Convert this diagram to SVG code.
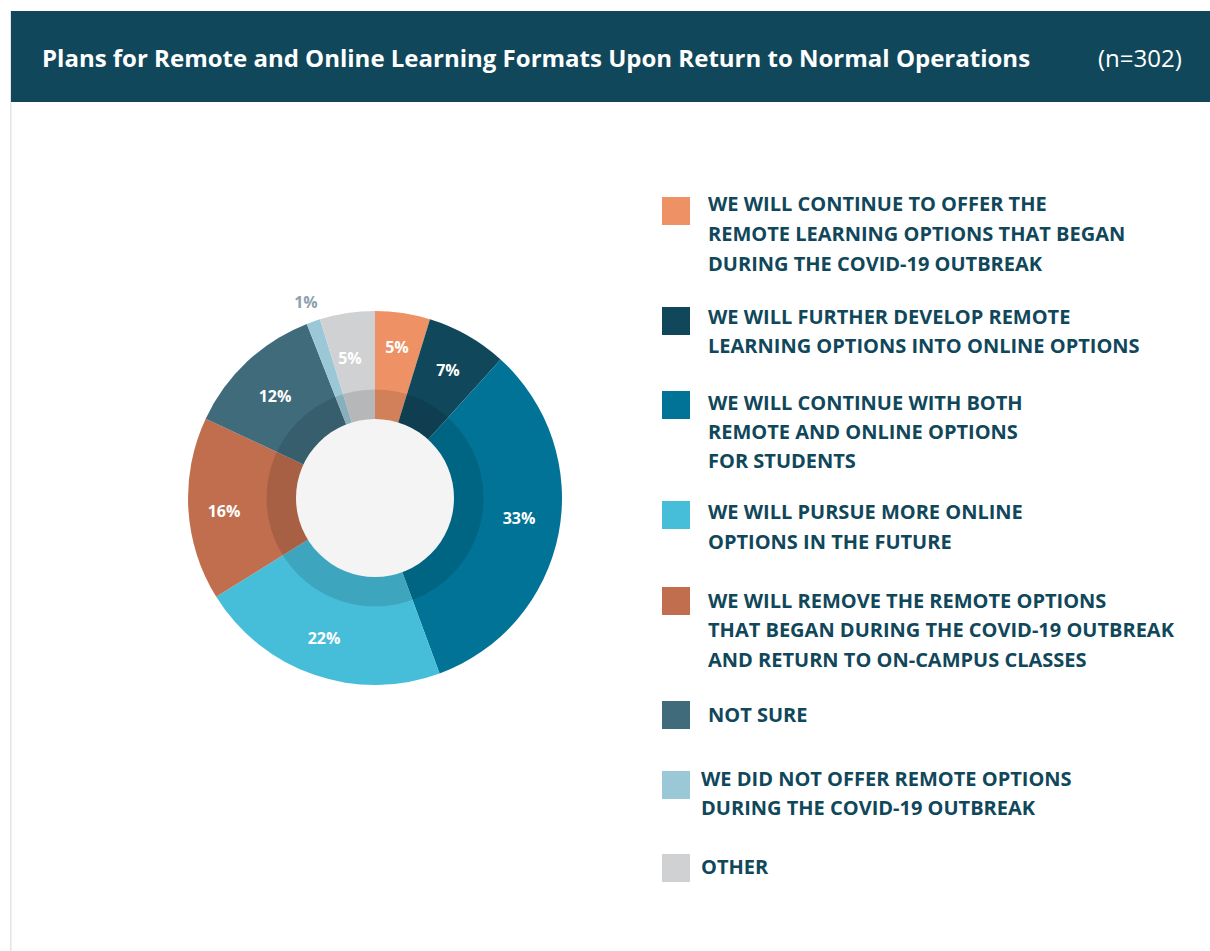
<svg xmlns="http://www.w3.org/2000/svg" width="1210" height="951" viewBox="0 0 1210 951">
<style>
.title{font-family:"Open Sans","Liberation Sans",sans-serif;font-weight:700;font-size:24px;fill:#ffffff}
.n{font-family:"Open Sans","Liberation Sans",sans-serif;font-weight:400;font-size:24px;fill:#ffffff}
.pct{font-family:"Open Sans","Liberation Sans",sans-serif;font-weight:700;font-size:16px;fill:#ffffff;text-anchor:middle}
.leg{font-family:"Open Sans","Liberation Sans",sans-serif;font-weight:700;font-size:20px;fill:#10475B}
</style>
<rect x="0" y="0" width="1210" height="951" fill="#ffffff"/>
<rect x="10" y="11" width="1.5" height="940" fill="#E3E3E3"/>
<rect x="11" y="11" width="1199" height="91" fill="#10475B"/>
<text class="title" x="42" y="67">Plans for Remote and Online Learning Formats Upon Return to Normal Operations</text>
<text class="n" x="1098" y="67">(n=302)</text>

<g id="donut">
<path d="M375,498 L375,311 A187,187 0 0 1 429.98,319.26 Z" fill="#EE9266"/>
<path d="M375,498 L429.98,319.26 A187,187 0 0 1 500.6,359.47 Z" fill="#10475B"/>
<path d="M375,498 L500.6,359.47 A187,187 0 0 1 439.57,673.5 Z" fill="#007396"/>
<path d="M375,498 L439.57,673.5 A187,187 0 0 1 216.2,596.8 Z" fill="#46BED9"/>
<path d="M375,498 L216.2,596.8 A187,187 0 0 1 205.7,418.7 Z" fill="#C06E4E"/>
<path d="M375,498 L205.7,418.7 A187,187 0 0 1 306.8,323.9 Z" fill="#3F6B7B"/>
<path d="M375,498 L306.8,323.9 A187,187 0 0 1 320.0,319.3 Z" fill="#9BC8D7"/>
<path d="M375,498 L320.0,319.3 A187,187 0 0 1 375,311 Z" fill="#D0D1D3"/>
<circle cx="375" cy="498" r="108.5" fill="#000000" fill-opacity="0.12"/>
<circle cx="375" cy="498" r="79" fill="#F4F4F4"/>
<text class="pct" x="397" y="352.5">5%</text>
<text class="pct" x="448" y="375.5">7%</text>
<text class="pct" x="519" y="523.5">33%</text>
<text class="pct" x="324" y="643.5">22%</text>
<text class="pct" x="224" y="516.5">16%</text>
<text class="pct" x="275" y="401.5">12%</text>
<text class="pct" x="350" y="364">5%</text>
<text class="pct" x="306" y="307.5" style="fill:#8FA1AE">1%</text>
</g>

<g id="legend-1">
<rect x="662" y="197" width="28" height="28" fill="#EE9266"/>
<text class="leg" x="708" y="211">WE WILL CONTINUE TO OFFER THE</text>
<text class="leg" x="708" y="241">REMOTE LEARNING OPTIONS THAT BEGAN</text>
<text class="leg" x="708" y="271">DURING THE COVID-19 OUTBREAK</text>
</g>
<g id="legend-2">
<rect x="662" y="307" width="28" height="28" fill="#10475B"/>
<text class="leg" x="708" y="323.5">WE WILL FURTHER DEVELOP REMOTE</text>
<text class="leg" x="708" y="353">LEARNING OPTIONS INTO ONLINE OPTIONS</text>
</g>
<g id="legend-3">
<rect x="662" y="391" width="28" height="28" fill="#007396"/>
<text class="leg" x="708" y="409.5">WE WILL CONTINUE WITH BOTH</text>
<text class="leg" x="708" y="438.5">REMOTE AND ONLINE OPTIONS</text>
<text class="leg" x="708" y="468">FOR STUDENTS</text>
</g>
<g id="legend-4">
<rect x="662" y="501" width="28" height="28" fill="#46BED9"/>
<text class="leg" x="708" y="519">WE WILL PURSUE MORE ONLINE</text>
<text class="leg" x="708" y="549">OPTIONS IN THE FUTURE</text>
</g>
<g id="legend-5">
<rect x="662" y="587" width="28" height="28" fill="#C06E4E"/>
<text class="leg" x="708" y="608">WE WILL REMOVE THE REMOTE OPTIONS</text>
<text class="leg" x="708" y="637">THAT BEGAN DURING THE COVID-19 OUTBREAK</text>
<text class="leg" x="708" y="666.5">AND RETURN TO ON-CAMPUS CLASSES</text>
</g>
<g id="legend-6">
<rect x="662" y="701" width="28" height="28" fill="#3F6B7B"/>
<text class="leg" x="708" y="722">NOT SURE</text>
</g>
<g id="legend-7">
<rect x="662" y="771" width="28" height="28" fill="#9BC8D7"/>
<text class="leg" x="701" y="786">WE DID NOT OFFER REMOTE OPTIONS</text>
<text class="leg" x="701" y="815">DURING THE COVID-19 OUTBREAK</text>
</g>
<g id="legend-8">
<rect x="662" y="854" width="28" height="28" fill="#D0D1D3"/>
<text class="leg" x="701" y="874">OTHER</text>
</g>
</svg>
